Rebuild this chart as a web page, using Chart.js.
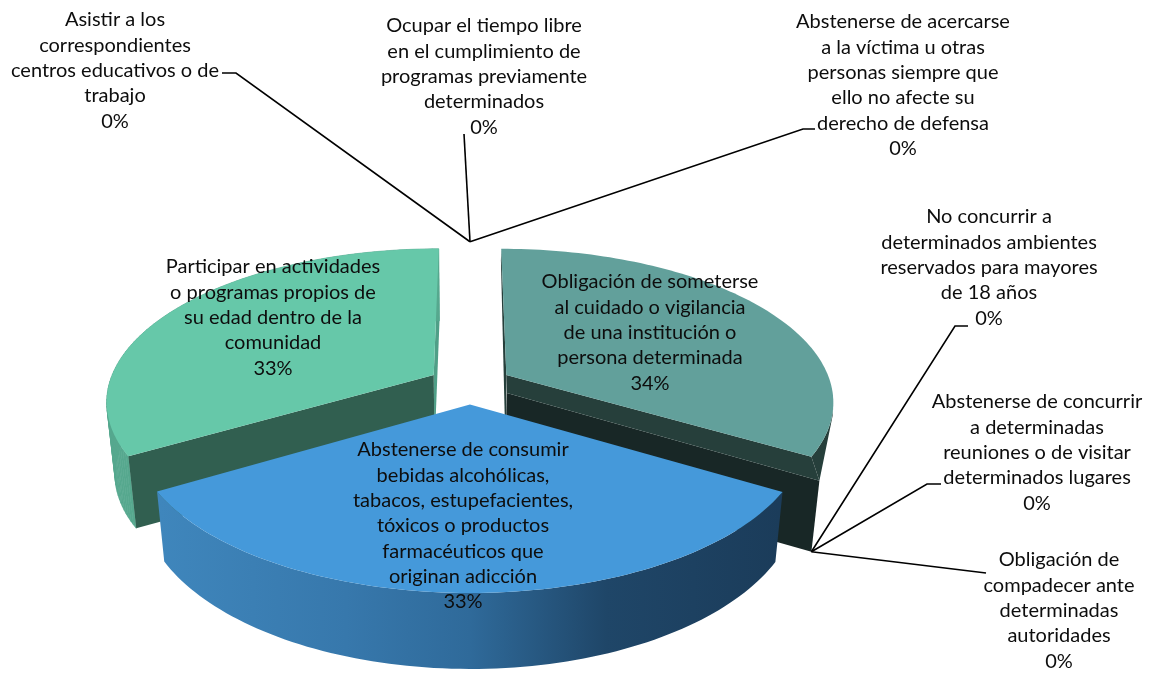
<!DOCTYPE html>
<html><head><meta charset="utf-8">
<style>html,body{margin:0;padding:0;background:#fff}canvas{display:block}</style>
<script src="https://cdn.jsdelivr.net/npm/chart.js@4"></script>
</head><body>
<canvas id="c" width="1150" height="674"></canvas>
<script>
const categories = [
 "Obligación de someterse al cuidado o vigilancia de una institución o persona determinada",
 "Obligación de compadecer ante determinadas autoridades",
 "Abstenerse de concurrir a determinadas reuniones o de visitar determinados lugares",
 "No concurrir a determinados ambientes reservados para mayores de 18 años",
 "Abstenerse de consumir bebidas alcohólicas, tabacos, estupefacientes, tóxicos o productos farmacéuticos que originan adicción",
 "Participar en actividades o programas propios de su edad dentro de la comunidad",
 "Asistir a los correspondientes centros educativos o de trabajo",
 "Ocupar el tiempo libre en el cumplimiento de programas previamente determinados",
 "Abstenerse de acercarse a la víctima u otras personas siempre que ello no afecte su derecho de defensa"
];
const values = [34, 0, 0, 0, 33, 33, 0, 0, 0];
const labelLines = [
 ["Obligación de someterse","al cuidado o vigilancia","de una institución o","persona determinada"],
 ["Obligación de","compadecer ante","determinadas","autoridades"],
 ["Abstenerse de concurrir","a determinadas","reuniones o de visitar","determinados lugares"],
 ["No concurrir a","determinados ambientes","reservados para mayores","de 18 años"],
 ["Abstenerse de consumir","bebidas alcohólicas,","tabacos, estupefacientes,","tóxicos o productos","farmacéuticos que","originan adicción"],
 ["Participar en actividades","o programas propios de","su edad dentro de la","comunidad"],
 ["Asistir a los","correspondientes","centros educativos o de","trabajo"],
 ["Ocupar el tiempo libre","en el cumplimiento de","programas previamente","determinados"],
 ["Abstenerse de acercarse","a la víctima u otras","personas siempre que","ello no afecte su","derecho de defensa"]
];
const sliceColors = ["#62a09b","#62a09b","#62a09b","#62a09b","#4599da","#66c8a9","#66c8a9","#66c8a9","#66c8a9"];

// layout: label centre x, first line centre y, line step
const labelBox = [[650,282],[1059,560],[1037,402],[989,217],[463,450],[273,267],[115,20],[484,26],[903,22]];
const LINE_H = 25.3;
// leader polylines: from label to the slice anchor (added from the arc geometry)
const leaderStart = {1:[[986,573]],2:[[941,484],[927,484]],3:[[968,326],[955,326]],6:[[222,73],[236,73]],7:[[464,134]],8:[[815,129],[803,129]]};

const CX=470, CY=384.6, AX=325, BY=150, P=0.165, EXPLODE=0.13, DEPTH=72, SHRINK=0.977, VIEW_WARP=2*Math.PI/180;
function proj(X,Y){const s=1/(1-P*Y);return [CX+AX*X*s,CY+BY*Y*s];}
function low(p,d){return [CX+(p[0]-CX)*SHRINK,p[1]+(d===undefined?DEPTH:d)];}
function poly(ctx,pts,fill){ctx.beginPath();pts.forEach((p,i)=>i?ctx.lineTo(p[0],p[1]):ctx.moveTo(p[0],p[1]));ctx.closePath();ctx.fillStyle=fill;ctx.fill();}
// small viewing correction of the pie angle, measured clockwise from the top
function warp(a){const t=a+Math.PI/2;return a-VIEW_WARP*Math.sin(t/2);}
function geom(el){
  const a0=warp(el.startAngle),a1=warp(el.endAngle),m=(a0+a1)/2;
  const ox=EXPLODE*Math.cos(m),oy=EXPLODE*Math.sin(m);
  const arc=[];const n=90;
  for(let i=0;i<=n;i++){const a=a0+(a1-a0)*i/n;arc.push(proj(ox+Math.cos(a),oy+Math.sin(a)));}
  return {apex:proj(ox,oy),arc,first:arc[0],last:arc[n]};
}
function wall(ctx,arc,fill,d){
  ctx.fillStyle=fill;ctx.strokeStyle=fill;ctx.lineWidth=.6;
  for(let i=0;i<arc.length-1;i++){
    const a=arc[i],b=arc[i+1],c=low(b,d),e=low(a,d);
    ctx.beginPath();ctx.moveTo(a[0],a[1]);ctx.lineTo(b[0],b[1]);ctx.lineTo(c[0],c[1]);ctx.lineTo(e[0],e[1]);ctx.closePath();ctx.fill();ctx.stroke();
  }
}
const pie3d={id:'pie3d',
  beforeDatasetsDraw(){return false;},
  afterDraw(chart){
    const ctx=chart.ctx,els=chart.getDatasetMeta(0).data;
    const teal=geom(els[0]),blue=geom(els[4]),green=geom(els[5]);
    ctx.save();
    // green
    poly(ctx,[green.last,green.apex,low(green.apex),low(green.last)],"#4f9f87");
    wall(ctx,green.arc,"#56a88e");
    poly(ctx,[green.apex,green.first,low(green.first),low(green.apex)],"#315f50");
    poly(ctx,[green.apex,...green.arc],sliceColors[5]);
    // teal
    const tEnd=teal.last,tA=teal.apex;
    const b1=[tEnd[0]+8,tEnd[1]+24],a1=[tA[0]+0.5,tA[1]+18];
    const b2=[tEnd[0],tEnd[1]+95],a2=[tA[0]-1,tA[1]+90];
    poly(ctx,[teal.first,tA,[tA[0],tA[1]+45],[tA[0]-1.5,tA[1]+45],[teal.first[0]-.3,teal.first[1]+12]],"#263f3b");
    let ext=0;teal.arc.forEach((p,i)=>{if(p[0]>teal.arc[ext][0])ext=i;});
    poly(ctx,[...teal.arc.slice(ext),b1,[teal.arc[ext][0]-.5,teal.arc[ext][1]+12]],"#263f3b");
    poly(ctx,[a1,b1,b2,a2],"#182726");
    poly(ctx,[tA,tEnd,b1,a1],"#263f3b");
    poly(ctx,[tA,...teal.arc],sliceColors[0]);
    // blue
    const g=ctx.createLinearGradient(160,0,780,0);
    g.addColorStop(0,"#3f86bc");g.addColorStop(.3,"#3778ac");g.addColorStop(.5,"#2f6a9a");g.addColorStop(.72,"#1f4668");g.addColorStop(1,"#1b3c5a");
    const blueLow=blue.arc.map(p=>low(p,70+(p[1]-490)*6/103)).reverse();
    poly(ctx,[...blue.arc,...blueLow],g);
    poly(ctx,[blue.apex,...blue.arc],sliceColors[4]);
    // leaders
    ctx.strokeStyle="#000";ctx.lineWidth=1.6;ctx.lineJoin="miter";
    const topAnchor=proj(0,-(1+EXPLODE));
    [1,2,3,6,7,8].forEach(i=>{
      const end=i<=3?b2:topAnchor;
      ctx.beginPath();
      leaderStart[i].forEach((p,k)=>k?ctx.lineTo(p[0],p[1]):ctx.moveTo(p[0],p[1]));
      ctx.lineTo(end[0],end[1]);ctx.stroke();
    });
    // labels
    ctx.fillStyle="#0d0d0d";ctx.textAlign="center";ctx.textBaseline="middle";
    ctx.font='20px Lato, "Open Sans", sans-serif';
    labelLines.forEach((ls,i)=>{
      const [x,y]=labelBox[i];
      [...ls,values[i]+"%"].forEach((t,k)=>ctx.fillText(t,x,y+k*LINE_H));
    });
    ctx.restore();
  }
};
new Chart(document.getElementById('c'),{
  type:'pie',
  data:{labels:categories,datasets:[{data:values,backgroundColor:sliceColors,borderWidth:0}]},
  options:{responsive:false,animation:false,
    plugins:{legend:{display:false},tooltip:{enabled:false}}},
  plugins:[pie3d]
});
</script>
</body></html>
